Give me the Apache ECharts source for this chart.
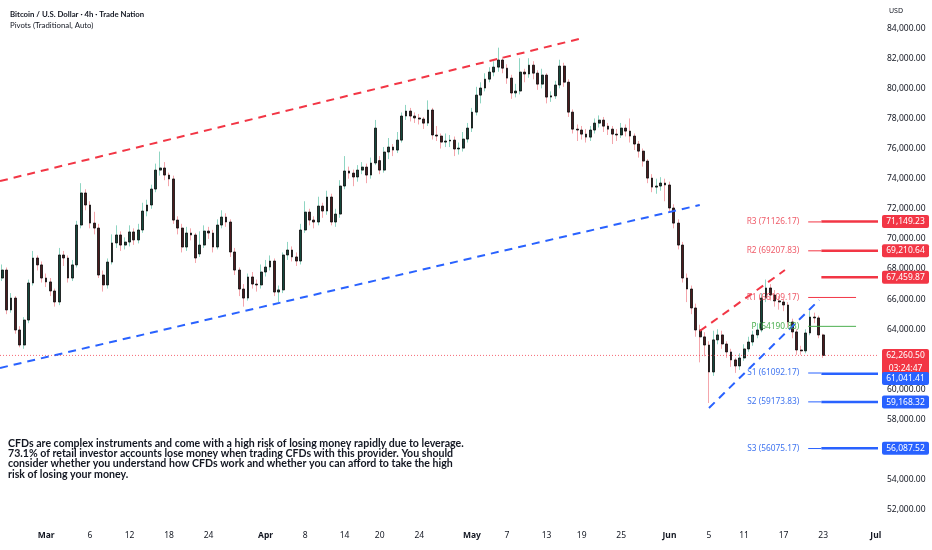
<!DOCTYPE html>
<html><head><meta charset="utf-8">
<script src="https://cdn.jsdelivr.net/npm/echarts@6/dist/echarts.min.js"></script>
<style>html,body{margin:0;padding:0;background:#fff}#c{width:932px;height:550px}</style>
</head><body><div id="c"></div><script>
// ---- data (4h-style candles, compressed) ----
const opens=[67400,67930,65280,66070,63950,62950,64610,67070,68730,68270,
67400,67140,66540,65810,68930,68730,67400,68270,70920,73050,
72250,71050,70720,67600,66940,68460,69730,70260,69590,69790,
70460,69930,70590,71850,72250,73310,74570,74710,74240,73980,
71250,70720,69460,70390,70260,69000,69590,70520,70390,69460,
70920,71450,71120,69130,67930,66670,66070,67470,67000,66940,
67800,68130,68530,66470,66610,68930,69260,68800,68530,70590,
71780,71250,71120,72180,71850,72780,71120,71650,73510,74510,
74370,74110,74570,74770,74240,75040,75200,74570,75770,76100,
75900,76560,78160,78490,78160,78030,77960,77690,78560,76900,
76830,76430,76500,76560,75970,76030,76630,77360,78420,79550,
80020,80610,81080,81410,81880,81340,80680,79690,79820,81080,
80950,81540,81010,80280,80880,79420,79500,80220,81480,80410,
78420,77290,77230,76960,76760,77230,77690,77890,77490,77290,
76960,76900,77360,77160,76830,76300,75830,75170,74040,73440,
73510,73710,73580,72050,71050,69590,67400,66670,65410,63950,
63490,62950,61160,63290,63620,63020,62490,61960,61560,62090,
62690,63150,63620,63950,66070,66740,66270,65880,65810,65610,
64480,63820,62620,62560,63750,64810,64750,63620];
const closes=[67930,65280,66070,63950,62950,64610,67070,68730,68270,67400,
67140,66540,65810,68930,68730,67400,68270,70920,73050,72250,
71050,70720,67600,66940,68460,69730,70260,69590,69790,70460,
69930,70590,71850,72250,73310,74570,74710,74240,73980,71250,
70720,69460,70390,70260,68730,69590,70520,70390,69460,70920,
71450,71120,69130,67930,66670,66070,67470,67000,66940,67800,
68130,68530,66470,66610,68930,69260,68800,68530,70590,71780,
71250,71120,72180,71850,72780,71120,71650,73510,74510,74370,
74110,74570,74770,74240,75040,77360,74570,75770,76100,75900,
76560,78160,78490,78160,78030,77960,77690,78560,76900,76830,
76430,76500,76560,75970,76030,76630,77360,78420,79550,80020,
80610,81080,81410,81880,81340,80680,79690,79820,81080,80950,
81540,81010,80280,80880,79420,79500,80220,81480,80410,78420,
77290,77230,76960,76760,77230,77690,77890,77490,77290,76960,
76900,77360,77160,76830,76300,75830,75170,74040,73440,73510,
73710,73580,72050,71050,69590,67400,66670,65410,63950,63490,
62950,61160,63290,63620,63020,62490,61960,61560,62090,62690,
63150,63620,63950,66070,66740,66270,65880,65810,65610,64480,
63820,62620,62560,63750,64810,64750,63620,62260.5];
const lows=[67200,65000,65100,63700,62800,62700,64400,66900,67900,67100,
66800,66200,65500,65600,68200,67100,67200,68100,70700,71900,
70700,70300,67400,66500,66700,68300,69400,69200,69300,69500,
69600,69700,70400,71500,72000,73100,74200,73900,73500,71000,
70300,69100,69200,69900,68400,68800,69400,70000,69100,69300,
70700,70800,68800,67600,66200,65500,65900,66700,66500,66700,
67500,67900,66200,65800,66400,68600,68500,68200,68300,70400,
70900,70700,70900,71400,71600,70900,70800,71400,73300,74000,
73500,73800,74300,73700,74000,74900,74300,74400,75300,75500,
75700,76400,77900,77800,77700,77600,77300,77500,76600,76500,
76000,76100,76100,75500,75600,75800,76400,77100,78200,79000,
79800,80400,80800,81100,81000,80300,79300,79400,79600,80400,
80700,80600,79900,80000,79000,79100,79300,80000,80100,78100,
77000,76500,76600,76400,76500,77000,77400,77100,76900,76300,
76500,76700,76800,76400,75900,75400,74800,73700,73100,73000,
73200,72500,71800,70700,69300,67100,65800,65000,63500,61800,
62200,59100,60900,63000,62700,62100,61500,61100,61300,61900,
62500,62900,63400,63800,65800,65900,65500,65300,65200,64100,
63400,62300,62300,62400,63600,64400,63400,62100];
const highs=[68300,68100,66400,66200,64200,64800,67300,69200,68900,68500,
67700,67400,66700,69400,69200,68900,68600,71200,73700,73300,
72500,71800,71000,67900,68700,70300,70900,70500,70100,70900,
70700,71000,72400,72600,73600,75000,75800,75100,74400,74200,
71500,71000,70800,70700,70400,70500,70900,70800,70600,71300,
71900,71700,71300,69400,68100,67000,67700,67800,67300,68300,
68600,68900,68700,66900,69100,69800,69500,69100,71000,72500,
72000,71500,72800,72400,73200,73000,72000,73900,75500,74800,
74600,74900,75100,75000,75400,77900,75500,76100,76700,76300,
77100,78400,78900,78700,78400,78300,78100,79200,78700,77500,
77000,77000,76900,76800,76400,77100,77700,78700,80100,80400,
81000,81400,81800,82700,82100,81600,80900,80300,82000,81300,
82000,81800,81200,81300,81000,79800,80500,81900,81700,80600,
78600,77600,77500,77300,77500,78000,78200,78100,77700,77500,
77300,77700,77600,78000,77000,76500,76000,75300,74300,74000,
74100,74000,73800,72300,71300,69800,67700,66900,65700,64300,
63800,63200,63900,64000,63900,63200,62700,62100,62400,63000,
63500,63900,64400,66400,67300,67000,66600,66200,66000,65800,
64700,64000,62900,64000,65200,65100,64900,63700];
const slotCount=200;
const tickIdx=[10,20,29,38,47,60,69,78,86,95,107,115,124,132,141,152,161,169,178,187,199];
const tickText=['Mar','6','12','18','24','Apr','8','14','20','24','May','7','13','19','25','Jun','5','11','17','23','Jul'];
// trend channels (candle index, price)
const channelUpper=[[-0.5,73840],[132.3,83340]];
const channelLower=[[-0.5,61430],[158.9,72250]];
const wedgeUpper=[[158.9,63880],[178.3,67930]];
const wedgeLower=[[161,58770],[186.1,65940]];
// pivots
const pivotNames=['R3','R2','R1','P','S1','S2','S3'];
const pivotValues=[71126.17,69207.83,66109.17,64190.83,61092.17,59173.83,56075.17];
const pivotFrom=183.6, pivotShortTo=194.5, pivotLongFrom=186.6, pivotLongTo=199.5;
// right-scale price tags
const tagValues=[71149.23,69210.64,67459.87,62260.50,61041.41,59168.32,56087.52];
const tagSide=['R','R','R','R','S','S','S'];
const lastPrice=62260.50;
const countdown='03:24:47';
const disclaimer=['CFDs are complex instruments and come with a high risk of losing money rapidly due to leverage.',
'73.1% of retail investor accounts lose money when trading CFDs with this provider. You should',
'consider whether you understand how CFDs work and whether you can afford to take the high',
'risk of losing your money.'];

const RED='#f23645', BLUE='#2962ff', GREEN='#4caf50', INK='#131722';
const fmt=v=>v.toLocaleString('en-US',{minimumFractionDigits:2,maximumFractionDigits:2});
const categories=Array.from({length:slotCount},(_,i)=>{const k=tickIdx.indexOf(i);return k<0?'':tickText[k];});
const candleRows=opens.map((o,i)=>[o,closes[i],lows[i],highs[i]]);
const bodyRows=opens.map((o,i)=>[o,closes[i],Math.min(o,closes[i]),Math.max(o,closes[i])]);

function seg(points,color,width,type,z){
  return {type:'line',xAxisIndex:1,yAxisIndex:0,data:points,symbol:'none',silent:true,animation:false,
    lineStyle:{color:color,width:width,type:type||'solid'},z:z||5};
}
const series=[
  {type:'candlestick',xAxisIndex:0,yAxisIndex:0,data:candleRows,barWidth:1,silent:true,z:2,
   itemStyle:{color:'#8fd5c2',color0:'#f4a6ac',borderColor:'#8fd5c2',borderColor0:'#f4a6ac',borderWidth:1}},
  {type:'candlestick',xAxisIndex:0,yAxisIndex:0,data:bodyRows,barWidth:2.3,silent:true,z:3,
   itemStyle:{color:'#15473b',color0:'#4a1a1e',borderColor:'#0a0a0a',borderColor0:'#0a0a0a',borderWidth:0.8}},
  seg(channelUpper,RED,2,[8,6]),
  seg(channelLower,BLUE,2,[8,6]),
  seg(wedgeUpper,RED,2,[8,6]),
  seg(wedgeLower,BLUE,2,[8,6]),
  seg([[-0.5,lastPrice],[pivotLongTo,lastPrice]],'rgba(242,54,69,0.75)',1,[1,2],4)
];
const tagForPivot={R3:0,R2:1,S1:4,S2:5,S3:6};
pivotNames.forEach((n,k)=>{
  const col=n[0]==='R'?RED:(n[0]==='S'?BLUE:GREEN);
  const short=(n==='R1'||n==='P');
  series.push(seg([[pivotFrom,pivotValues[k]],[short?pivotShortTo:pivotLongFrom,pivotValues[k]]],col,1,'solid',6));
  if(!short){ series.push(seg([[pivotLongFrom,tagValues[tagForPivot[n]]],[pivotLongTo,tagValues[tagForPivot[n]]]],col,2.5,'solid',6)); }
});
series.push(seg([[pivotLongFrom,tagValues[2]],[pivotLongTo,tagValues[2]]],RED,2.5,'solid',6));

const chart=echarts.init(document.getElementById('c'));
chart.setOption({
  animation:false,
  backgroundColor:'#ffffff',
  title:{left:5,top:5,itemGap:3,
    text:'Bitcoin / U.S. Dollar · 4h · Trade Nation',
    subtext:'Pivots (Traditional, Auto)',
    textStyle:{fontFamily:'Lato',fontSize:7.8,fontWeight:'bold',color:INK},
    subtextStyle:{fontFamily:'Lato',fontSize:7.8,color:INK}},
  grid:{left:0,right:54,top:-2,bottom:10,outerBoundsMode:'none',containLabel:false},
  xAxis:[
    {type:'category',data:categories,boundaryGap:true,axisLine:{show:false},axisTick:{show:false},splitLine:{show:false},
     axisLabel:{interval:0,margin:-9,hideOverlap:false,fontFamily:'Noto Sans',fontSize:8.5,color:INK,
       formatter:v=>v===''?'':(isNaN(+v)?'{b|'+v+'}':v),rich:{b:{fontWeight:'bold',fontFamily:'Noto Sans',fontSize:8.5,color:INK}}}},
    {type:'value',min:-0.5,max:slotCount-0.5,show:false}
  ],
  yAxis:{type:'value',position:'right',min:50000,max:86000,interval:2000,scale:true,
    axisLine:{show:false},axisTick:{show:false},splitLine:{show:false},
    axisLabel:{margin:9,showMinLabel:false,showMaxLabel:false,fontFamily:'Noto Sans',fontSize:8.5,color:INK,formatter:v=>fmt(v)}},
  series:series
});

// overlay texts positioned through the chart's own scales
const yPx=v=>chart.convertToPixel({yAxisIndex:0},v);
const xPx=v=>chart.convertToPixel({xAxisIndex:1},v);
const g=[];
pivotNames.forEach((n,k)=>{
  const col=n[0]==='R'?'#ef5b69':(n[0]==='S'?'#3f74f0':'#4caf50');
  g.push({type:'text',x:xPx(pivotFrom)-9,y:yPx(pivotValues[k]),z:50,
    style:{text:n+' ('+pivotValues[k].toFixed(2)+')',fill:col,fontFamily:'Noto Sans',fontSize:8.3,align:'right',verticalAlign:'middle'}});
});
const tagX=xPx(pivotLongTo)+4, tagW=47;
let prevBottom=-1e9;
tagValues.forEach((v,k)=>{
  const y=yPx(v);
  const h=(v===lastPrice)?27:13;
  let top=y-6.5;
  if(top<prevBottom-4) top=prevBottom-4;
  prevBottom=top+h;
  const fill=tagSide[k]==='R'?RED:BLUE;
  g.push({type:'rect',z:60,shape:{x:tagX,y:top,width:tagW,height:h,r:2},style:{fill:fill}});
  g.push({type:'text',z:61,x:tagX+tagW/2,y:top+6.8,style:{text:fmt(v),fill:'#fff',fontFamily:'Noto Sans',fontSize:8.5,align:'center',verticalAlign:'middle'}});
  if(v===lastPrice){
    g.push({type:'text',z:61,x:tagX+tagW/2,y:top+19.5,style:{text:countdown,fill:'#fff',fontFamily:'Noto Sans',fontSize:8.5,align:'center',verticalAlign:'middle'}});
  }
});
g.push({type:'text',z:61,x:889,y:7,style:{text:'USD',fill:INK,fontFamily:'Noto Sans',fontSize:7,align:'left',verticalAlign:'top'}});
g.push({type:'text',z:61,x:8,y:438,style:{text:disclaimer.join('\n'),fill:INK,fontFamily:'Lato',fontWeight:'bold',fontSize:10.6,lineHeight:10.4,align:'left',verticalAlign:'top'}});
chart.setOption({graphic:g});
</script></body></html>
